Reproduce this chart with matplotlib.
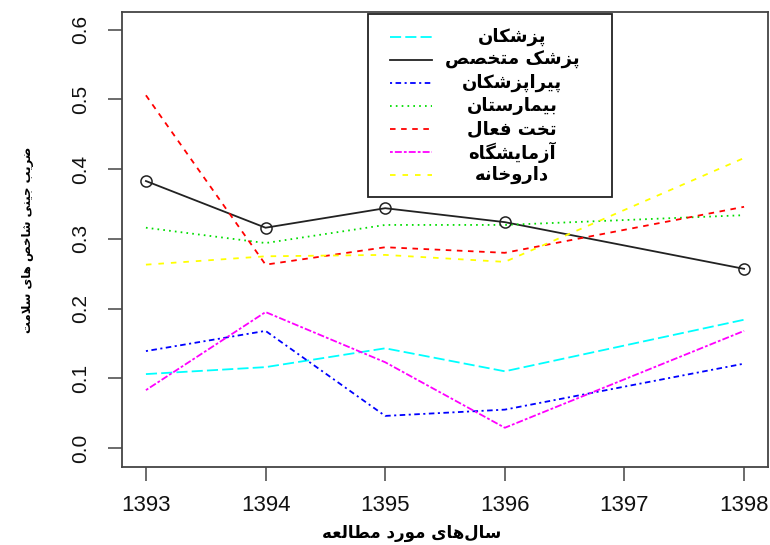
import matplotlib
matplotlib.use("Agg")
import matplotlib.pyplot as plt
from matplotlib.lines import Line2D
from matplotlib.patches import Rectangle

plt.rcParams['lines.scale_dashes'] = False

# ---------------- data ----------------
years = [1393, 1394, 1395, 1396, 1398]
xticks = [1393, 1394, 1395, 1396, 1397, 1398]
yticks = [0.0, 0.1, 0.2, 0.3, 0.4, 0.5, 0.6]

physicians = [0.106, 0.116, 0.143, 0.110, 0.184]      # پزشکان
specialists = [0.383, 0.316, 0.344, 0.324, 0.257]     # پزشک متخصص
paramedics = [0.139, 0.168, 0.046, 0.055, 0.121]      # پیراپزشکان
hospitals = [0.316, 0.294, 0.320, 0.320, 0.334]       # بیمارستان
active_beds = [0.506, 0.263, 0.288, 0.280, 0.346]     # تخت فعال
laboratories = [0.083, 0.195, 0.123, 0.029, 0.168]    # آزمایشگاه
pharmacies = [0.263, 0.275, 0.277, 0.267, 0.416]      # داروخانه

labels = ["پزشکان", "پزشک متخصص", "پیراپزشکان", "بیمارستان",
          "تخت فعال", "آزمایشگاه", "داروخانه"]
xlabel = "سال‌های مورد مطالعه"
ylabel = "ضریب جینی شاخص های سلامت"

# ---------------- simple Persian shaping ----------------
FORMS = {
    'ا': ('\uFE8D', '\uFE8E', None, None),
    'آ': ('\uFE81', '\uFE82', None, None),
    'ب': ('\uFE8F', '\uFE90', '\uFE91', '\uFE92'),
    'پ': ('\uFB56', '\uFB57', '\uFB58', '\uFB59'),
    'ت': ('\uFE95', '\uFE96', '\uFE97', '\uFE98'),
    'ج': ('\uFE9D', '\uFE9E', '\uFE9F', '\uFEA0'),
    'خ': ('\uFEA5', '\uFEA6', '\uFEA7', '\uFEA8'),
    'د': ('\uFEA9', '\uFEAA', None, None),
    'ر': ('\uFEAD', '\uFEAE', None, None),
    'ز': ('\uFEAF', '\uFEB0', None, None),
    'ژ': ('\uFB8A', '\uFB8B', None, None),
    'س': ('\uFEB1', '\uFEB2', '\uFEB3', '\uFEB4'),
    'ش': ('\uFEB5', '\uFEB6', '\uFEB7', '\uFEB8'),
    'ص': ('\uFEB9', '\uFEBA', '\uFEBB', '\uFEBC'),
    'ض': ('\uFEBD', '\uFEBE', '\uFEBF', '\uFEC0'),
    'ط': ('\uFEC1', '\uFEC2', '\uFEC3', '\uFEC4'),
    'ع': ('\uFEC9', '\uFECA', '\uFECB', '\uFECC'),
    'ف': ('\uFED1', '\uFED2', '\uFED3', '\uFED4'),
    'ک': ('\uFB8E', '\uFB8F', '\uFB90', '\uFB91'),
    'گ': ('\uFB92', '\uFB93', '\uFB94', '\uFB95'),
    'ل': ('\uFEDD', '\uFEDE', '\uFEDF', '\uFEE0'),
    'م': ('\uFEE1', '\uFEE2', '\uFEE3', '\uFEE4'),
    'ن': ('\uFEE5', '\uFEE6', '\uFEE7', '\uFEE8'),
    'ه': ('\uFEE9', '\uFEEA', '\uFEEB', '\uFEEC'),
    'و': ('\uFEED', '\uFEEE', None, None),
    'ی': ('\uFBFC', '\uFBFD', '\uFBFE', '\uFBFF'),
}


def shape(text):
    chars = list(text)
    n = len(chars)

    def joins_left(c):
        return c in FORMS and FORMS[c][2] is not None

    res = []
    i = 0
    while i < n:
        c = chars[i]
        if c == '\u200c':
            i += 1
            continue
        if c not in FORMS:
            res.append(c)
            i += 1
            continue
        prev = chars[i - 1] if i > 0 else None
        cp = prev is not None and joins_left(prev)
        if c == 'ل' and i + 1 < n and chars[i + 1] in ('ا', 'آ'):
            lig = {'ا': ('\uFEFB', '\uFEFC'), 'آ': ('\uFEF5', '\uFEF6')}[chars[i + 1]]
            res.append(lig[1] if cp else lig[0])
            i += 2
            continue
        nxt = chars[i + 1] if i + 1 < n else None
        cn = joins_left(c) and nxt is not None and nxt in FORMS
        iso, fin, ini, med = FORMS[c]
        if cp and cn:
            g = med
        elif cp:
            g = fin
        elif cn:
            g = ini
        else:
            g = iso
        res.append(g)
        i += 1
    return ''.join(reversed(res))


# ---------------- figure ----------------
W, H = 770, 545
fig = plt.figure(figsize=(W / 100, H / 100), dpi=100)
L, R, T, B = 122, 768, 12, 467
ax = fig.add_axes([L / W, 1 - B / H, (R - L) / W, (B - T) / H])

series = [physicians, specialists, paramedics, hospitals, active_beds, laboratories, pharmacies]
colors = ['#00FFFF', '#222222', '#0000FF', '#00DD00', '#FF0000', '#FF00FF', '#FFFF00']
styles = [(0, (8, 3)), '-', (0, (1.5, 2.5, 4, 2.5)), (0, (1.2, 3)),
          (0, (4, 4)), (0, (2, 1.5, 5, 1.5)), (0, (4, 5))]

for vals, c, ls in zip(series, colors, styles):
    ax.plot(years, vals, color=c, linestyle=ls, lw=1.3)
ax.plot(years, specialists, linestyle='none', marker='o', ms=8,
        mfc='none', mec='#222222', mew=1.1)

ax.set_xlim(1392.8, 1398.2)
ax.set_ylim(-0.0273, 0.6255)
ax.set_xticks(xticks)
ax.set_xticklabels([str(v) for v in xticks])
ax.set_yticks(yticks)
ax.set_yticklabels([f"{v:.1f}" for v in yticks], rotation=90, va='center')
ax.tick_params(axis='both', direction='out', length=10, width=1.1,
               color='#444444', labelcolor='#111111')
ax.tick_params(axis='x', pad=10, labelsize=16)
ax.tick_params(axis='y', pad=13, labelsize=15)
for lab in ax.get_xticklabels() + ax.get_yticklabels():
    lab.set_family(['Liberation Sans', 'DejaVu Sans'])
for s in ax.spines.values():
    s.set_color('#444444')
    s.set_linewidth(1.3)

# axis labels
fig.text(412 / W, 1 - 533 / H, shape(xlabel), ha='center', va='center',
         fontsize=12, fontweight='bold', family=['DejaVu Sans'])
fig.text(28 / W, 1 - 240 / H, shape(ylabel), ha='center', va='center',
         rotation=90, fontsize=8.5, fontweight='bold', family=['DejaVu Sans'])

# legend (manual, R style)
fig.patches.append(Rectangle((368 / W, 1 - 197 / H), (612 - 368) / W, (197 - 14) / H,
                             transform=fig.transFigure, facecolor='white',
                             edgecolor='#222222', lw=1.3, zorder=5))
rows = [37, 60, 83, 106, 129, 152, 175]
for ypx, lab, c, ls in zip(rows, labels, colors, styles):
    fig.add_artist(Line2D([390 / W, 432 / W], [1 - ypx / H, 1 - ypx / H],
                          transform=fig.transFigure, color=c, linestyle=ls,
                          lw=1.3, zorder=6))
    fig.text(512 / W, 1 - ypx / H, shape(lab), ha='center', va='center',
             fontsize=13, fontweight='bold', family=['DejaVu Sans'], zorder=6)

fig.savefig("out.png", dpi=100)
